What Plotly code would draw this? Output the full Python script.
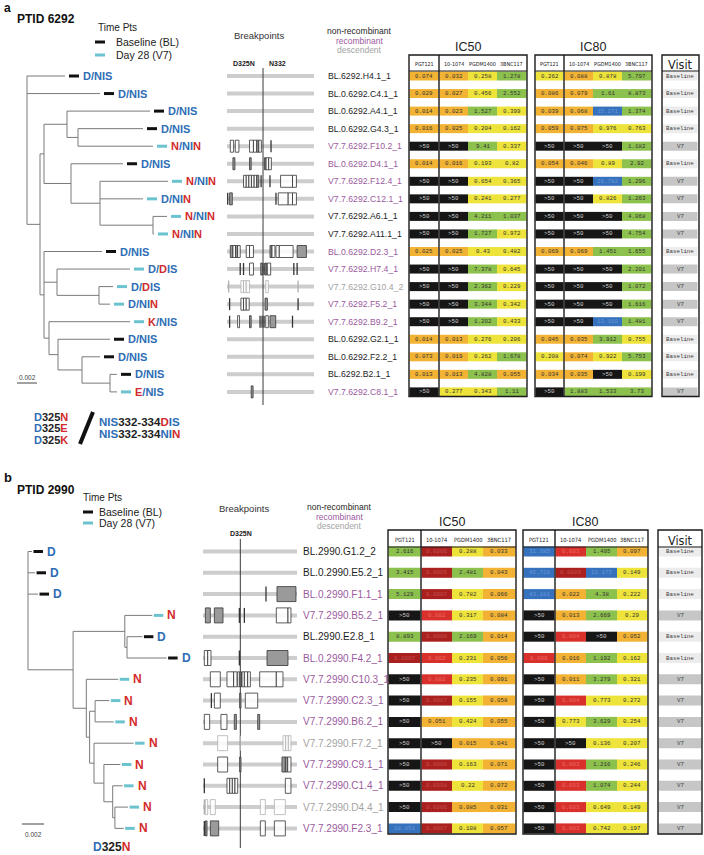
import plotly.graph_objects as go

# ============================ DATA ============================
# ---------- Panel a : PTID 6292 ----------
a_seq_names = ["BL.6292.H4.1_1", "BL.0.6292.C4.1_1", "BL.0.6292.A4.1_1", "BL.0.6292.G4.3_1",
               "V7.7.6292.F10.2_1", "BL.0.6292.D4.1_1", "V7.7.6292.F12.4_1", "V7.7.6292.C12.1_1",
               "V7.7.6292.A6.1_1", "V7.7.6292.A11.1_1", "BL.0.6292.D2.3_1", "V7.7.6292.H7.4_1",
               "V7.7.6292.G10.4_2", "V7.7.6292.F5.2_1", "V7.7.6292.B9.2_1", "BL.0.6292.G2.1_1",
               "BL.0.6292.F2.2_1", "BL.6292.B2.1_1", "V7.7.6292.C8.1_1"]
a_seq_class = ["non", "non", "non", "non", "rec", "rec", "rec", "rec", "non", "non",
               "rec", "rec", "desc", "rec", "rec", "non", "non", "non", "rec"]
a_genotype = ["D/NIS", "D/NIS", "D/NIS", "D/NIS", "N/NIN", "D/NIS", "N/NIN", "D/NIN", "N/NIN", "N/NIN",
              "D/NIS", "D/DIS", "D/DIS", "D/NIN", "K/NIS", "D/NIS", "D/NIS", "D/NIS", "E/NIS"]
a_reference = "D/NIS"
a_timepoint = ["BL", "BL", "BL", "BL", "V7", "BL", "V7", "V7", "V7", "V7",
               "BL", "V7", "V7", "V7", "V7", "BL", "BL", "BL", "V7"]

# tree: (node, parent, branch length in substitutions/site)
a_tree = [
    ("root", None, 0.0),
    ("L0", "root", 0.0038), ("L1", "root", 0.0073), ("n1", "root", 0.0013),
    ("n2", "n1", 0.0004),
    ("n3", "n2", 0.0023), ("L2", "n3", 0.0083), ("n4", "n3", 0.0011),
    ("L3", "n4", 0.0065), ("L4", "n4", 0.0075),
    ("n5", "n2", 0.0027), ("L5", "n5", 0.0052), ("n6", "n5", 0.0029),
    ("L6", "n6", 0.0068), ("L7", "n6", 0.0043), ("n7", "n6", 0.0053),
    ("L8", "n7", 0.0014), ("L9", "n7", 0.0001),
    ("n8", "n1", 0.0004), ("L10", "n8", 0.0058),
    ("n9", "n8", 0.0013), ("L11", "n9", 0.0073), ("n10", "n9", 0.0042),
    ("L12", "n10", 0.0014), ("L13", "n10", 0.0011),
    ("n11", "n8", 0.0005), ("L14", "n11", 0.0081), ("n12", "n11", 0.0009),
    ("L15", "n12", 0.0052), ("n13", "n12", 0.0024), ("L16", "n13", 0.0018),
    ("n14", "n13", 0.0028), ("L17", "n14", 0.0007), ("L18", "n14", 0.0007),
]

# breakpoints along the env segment (percent of segment); kind o=open box, f=filled box, l=line
a_d325_pos = 41.4
a_breaks = [
    [], [], [], [],
    [("o", 3.8, 7.6), ("o", 9.5, 13.7), ("o", 25.9, 30.4), ("o", 30.4, 34.2), ("f", 34.2, 36.5),
     ("o", 36.5, 39.5), ("l", 50.6, 50.6)],
    [("f", 6.8, 9.1), ("f", 25.9, 27.8), ("f", 43.0, 44.9), ("o", 44.9, 47.9), ("o", 47.9, 51.0)],
    [("o", 19.0, 22.1), ("o", 22.1, 25.1), ("o", 25.1, 28.1), ("o", 28.1, 31.2), ("o", 31.2, 34.2),
     ("f", 34.2, 36.5), ("l", 39.2, 39.2), ("l", 49.4, 49.4), ("o", 61.6, 75.3), ("o", 75.3, 79.8)],
    [("l", 0.8, 0.8), ("f", 3.0, 6.1), ("l", 56.3, 56.3), ("o", 58.9, 70.3), ("o", 70.3, 75.3),
     ("o", 75.3, 79.8)],
    [], [],
    [("f", 3.8, 6.8), ("o", 6.8, 9.9), ("f", 9.9, 12.2), ("o", 12.2, 15.2), ("o", 22.1, 25.9),
     ("o", 25.9, 30.4), ("f", 49.4, 51.7), ("o", 51.7, 55.1), ("o", 56.3, 60.1), ("o", 60.1, 76.0),
     ("f", 80.6, 91.3)],
    [("l", 15.2, 15.2), ("l", 19.0, 19.0), ("o", 25.9, 30.4), ("f", 38.8, 40.7), ("l", 42.6, 42.6),
     ("f", 43.7, 45.6), ("o", 46.4, 50.2), ("l", 76.8, 76.8), ("l", 80.6, 80.6)],
    [("l", 1.9, 1.9), ("o", 16.0, 19.0), ("o", 19.0, 22.1), ("o", 22.1, 25.9), ("o", 44.5, 47.5),
     ("l", 81.7, 81.7)],
    [("l", 3.0, 3.0), ("o", 16.0, 19.0), ("o", 19.0, 22.1), ("o", 22.1, 25.5), ("f", 43.7, 46.4),
     ("l", 81.7, 81.7)],
    [("l", 3.0, 3.0), ("o", 12.2, 14.4), ("f", 25.9, 27.8), ("l", 38.0, 38.0), ("l", 40.3, 40.3),
     ("l", 42.6, 42.6), ("o", 44.5, 47.5), ("f", 49.4, 56.0), ("l", 75.3, 75.3)],
    [], [], [],
    [("f", 27.8, 30.0)],
]

a_ic50_pgt121 = ["0.074", "0.029", "0.014", "0.016", ">50", "0.014", ">50", ">50", ">50", ">50",
                 "0.025", ">50", ">50", ">50", ">50", "0.014", "0.073", "0.013", ">50"]
a_ic50_1074 = ["0.032", "0.027", "0.023", "0.025", ">50", "0.016", ">50", ">50", ">50", ">50",
               "0.025", ">50", ">50", ">50", ">50", "0.013", "0.019", "0.013", "0.277"]
a_ic50_pgdm = ["0.258", "0.456", "1.527", "0.204", "9.41", "0.193", "0.654", "0.241", "4.211", "1.727",
               "0.43", "7.378", "2.362", "3.344", "1.202", "0.276", "0.262", "4.828", "0.343"]
a_ic50_3bnc = ["1.278", "2.552", "0.399", "0.162", "0.337", "0.82", "0.365", "0.277", "1.037", "0.972",
               "0.482", "0.645", "0.229", "0.342", "0.433", "0.206", "1.678", "0.055", "1.11"]
a_ic80_pgt121 = ["0.262", "0.086", "0.039", "0.059", ">50", "0.054", ">50", ">50", ">50", ">50",
                 "0.069", ">50", ">50", ">50", ">50", "0.045", "0.208", "0.034", ">50"]
a_ic80_1074 = ["0.088", "0.079", "0.068", "0.075", ">50", "0.046", ">50", ">50", ">50", ">50",
               "0.069", ">50", ">50", ">50", ">50", "0.035", "0.074", "0.035", "1.883"]
a_ic80_pgdm = ["0.878", "1.61", "35.271", "0.976", ">50", "0.89", "20.782", "0.826", ">50", ">50",
               "1.451", ">50", ">50", ">50", "13.160", "3.912", "0.922", ">50", "1.533"]
a_ic80_3bnc = ["5.797", "8.873", "1.374", "0.763", "1.182", "2.92", "1.296", "1.263", "4.068", "4.754",
               "1.655", "2.201", "1.072", "1.616", "1.481", "0.755", "5.753", "0.199", "3.73"]

# ---------- Panel b : PTID 2990 ----------
b_seq_names = ["BL.2990.G1.2_2", "BL.0.2990.E5.2_1", "BL.0.2990.F1.1_1", "V7.7.2990.B5.2_1",
               "BL.2990.E2.8_1", "BL.0.2990.F4.2_1", "V7.7.2990.C10.3_1", "V7.7.2990.C2.3_1",
               "V7.7.2990.B6.2_1", "V7.7.2990.F7.2_1", "V7.7.2990.C9.1_1", "V7.7.2990.C1.4_1",
               "V7.7.2990.D4.4_1", "V7.7.2990.F2.3_1"]
b_seq_class = ["non", "non", "rec", "rec", "non", "rec", "rec", "rec", "rec", "desc", "rec", "rec",
               "desc", "rec"]
b_genotype = ["D", "D", "D", "N", "D", "D", "N", "N", "N", "N", "N", "N", "N", "N"]
b_reference = "D"
b_timepoint = ["BL", "BL", "BL", "V7", "BL", "BL", "V7", "V7", "V7", "V7", "V7", "V7", "V7", "V7"]

b_tree = [
    ("root", None, 0.0),
    ("L0", "root", 0.00036), ("L1", "root", 0.00064), ("L2", "root", 0.00091),
    ("n1", "root", 0.0041),
    ("n2", "n1", 0.0047), ("L3", "n2", 0.0025), ("n3", "n2", 0.0002),
    ("L4", "n3", 0.0014), ("L5", "n3", 0.0036),
    ("n4", "n1", 0.0012), ("L6", "n4", 0.0029), ("n5", "n4", 0.0003),
    ("n6", "n5", 0.0005), ("L7", "n6", 0.0013), ("L8", "n6", 0.0017),
    ("n7", "n5", 0.0004), ("L9", "n7", 0.0036), ("n8", "n7", 0.0009),
    ("L10", "n8", 0.0015), ("n9", "n8", 0.0008), ("L11", "n9", 0.0009),
    ("n10", "n9", 0.0002), ("L12", "n10", 0.0012), ("L13", "n10", 0.0008),
]

b_d325_pos = 39.7
b_breaks = [
    [], [],
    [("l", 67.0, 67.0), ("f", 78.7, 98.9)],
    [("f", 2.5, 7.8), ("f", 12.1, 21.3), ("l", 38.7, 38.7), ("l", 44.0, 44.0), ("o", 78.0, 90.4),
     ("o", 90.4, 93.6)],
    [],
    [("o", 1.4, 5.0), ("o", 5.0, 8.5), ("l", 38.7, 38.7), ("f", 68.1, 90.4)],
    [("o", 7.8, 18.4), ("o", 25.5, 32.6), ("o", 32.6, 36.2), ("o", 36.9, 39.0), ("f", 39.5, 41.0),
     ("o", 41.5, 44.0), ("o", 44.0, 47.5), ("o", 47.5, 50.4), ("o", 60.3, 78.0), ("o", 78.0, 85.1)],
    [("l", 8.9, 8.9), ("o", 12.1, 18.4), ("f", 39.0, 40.4), ("o", 45.0, 58.2)],
    [("o", 1.4, 7.1), ("o", 19.1, 25.5), ("f", 33.3, 35.5), ("f", 58.2, 60.3)],
    [("o", 15.6, 26.2), ("l", 39.7, 39.7), ("o", 85.1, 87.9), ("o", 87.9, 90.8), ("o", 90.8, 93.6)],
    [("o", 15.6, 26.2), ("f", 39.0, 40.4), ("f", 84.0, 87.6), ("f", 87.6, 90.1), ("o", 90.1, 93.6)],
    [("l", 1.4, 1.4), ("o", 25.5, 28.4), ("o", 28.4, 31.2), ("o", 31.2, 34.0), ("o", 34.0, 36.9),
     ("o", 87.6, 93.6)],
    [("l", 1.4, 1.4), ("o", 2.5, 5.0), ("o", 7.8, 13.1), ("o", 61.0, 66.3), ("o", 75.9, 87.6)],
    [("l", 1.4, 1.4), ("f", 2.5, 4.3), ("f", 7.8, 16.7), ("o", 61.0, 66.3), ("o", 75.9, 87.6)],
]

b_ic50_pgt121 = ["2.616", "3.415", "5.129", ">50", "8.893", "0.0007", ">50", ">50", ">50", ">50",
                 ">50", ">50", ">50", "18.851"]
b_ic50_1074 = ["0.0006", "0.0005", "0.0007", "0.002", "0.0006", "0.002", "0.002", "0.0007", "0.051",
               ">50", "0.0006", "0.0008", "0.0006", "0.0007"]
b_ic50_pgdm = ["0.288", "2.481", "0.782", "0.317", "2.169", "0.231", "0.235", "0.155", "0.424", "0.015",
               "0.163", "0.22", "0.085", "0.108"]
b_ic50_3bnc = ["0.033", "0.043", "0.066", "0.084", "0.014", "0.056", "0.091", "0.058", "0.055", "0.041",
               "0.071", "0.072", "0.031", "0.057"]
b_ic80_pgt121 = ["31.385", "45.728", "43.101", ">50", ">50", "0.009", ">50", ">50", ">50", ">50",
                 ">50", ">50", ">50", ">50"]
b_ic80_1074 = ["0.003", "0.0009", "0.022", "0.013", "0.004", "0.016", "0.011", "0.004", "0.773", ">50",
               "0.003", "0.003", "0.003", "0.003"]
b_ic80_pgdm = ["1.495", "22.175", "4.38", "2.669", ">50", "1.192", "3.279", "0.773", "3.629", "0.136",
               "1.216", "1.074", "0.649", "0.742"]
b_ic80_3bnc = ["0.097", "0.149", "0.222", "0.29", "0.052", "0.162", "0.321", "0.272", "0.254", "0.207",
               "0.246", "0.244", "0.149", "0.197"]

antibodies = ["PGT121", "10-1074", "PGDM1400", "3BNC117"]
visit_names = {"BL": "Baseline", "V7": "V7"}

# ============================ STYLE ============================
SANS = "Liberation Sans, Arial, Helvetica, sans-serif"
NARROW = "DejaVu Sans Condensed, Liberation Sans Narrow, Liberation Sans, Arial, sans-serif"
MONO = "Liberation Mono, DejaVu Sans Mono, Courier New, monospace"
BLUE = "#2e6db5"
RED = "#d22b2b"
TREE_COL = "#7a7a7a"
DASH_COL = {"BL": "#111111", "V7": "#6cc3d0"}
NAME_COL = {"non": "#1e1e1e", "rec": "#9b5a9e", "desc": "#a3a3a3"}
GRAYLINE = "#cdcdcd"

CELL = {"black": ("#161616", "#cfcfcf"), "darkred": ("#a9201f", "#c75050"), "red": ("#d8312c", "#ec6a62"),
        "orange": ("#f2b233", "#333333"), "yellow": ("#eee33a", "#333333"), "green": ("#8dc14e", "#333333"),
        "blue": ("#3571bd", "#6a98d6")}


def cell_style(s):
    if s.startswith(">"):
        return CELL["black"]
    v = float(s)
    if v < 0.001:
        return CELL["darkred"]
    if v < 0.01:
        return CELL["red"]
    if v < 0.1:
        return CELL["orange"]
    if v < 1:
        return CELL["yellow"]
    if v < 10:
        return CELL["green"]
    return CELL["blue"]


shapes = []
ann = []
line_groups = {}


def seg(x0, y0, x1, y1, color, width):
    xs, ys = line_groups.setdefault((color, width), ([], []))
    xs += [x0, x1, None]
    ys += [y0, y1, None]


def txt(x, y, s, size, color="#222222", anchor="left", family=SANS, bold=False, yanchor="middle"):
    if bold:
        s = "<b>" + s + "</b>"
    ann.append(dict(x=x, y=y, xref="x", yref="y", text=s, showarrow=False, xanchor=anchor,
                    yanchor=yanchor, borderpad=0, font=dict(size=size, color=color, family=family)))


def rect(x0, y0, x1, y1, fill, line_color=None, lw=0):
    shapes.append(dict(type="rect", xref="x", yref="y", x0=x0, x1=x1, y0=y0, y1=y1,
                       fillcolor=fill, line=dict(color=line_color or fill, width=lw), layer="above"))


def vline_shape(x, y0, y1, color, width):
    shapes.append(dict(type="line", xref="x", yref="y", x0=x, x1=x, y0=y0, y1=y1,
                       line=dict(color=color, width=width), layer="above"))


def geno_html(g, ref):
    out = ""
    for c, r in zip(g, ref):
        out += "<span style='color:%s'>%s</span>" % (BLUE if c == r else RED, c)
    return "<b>" + out + "</b>"


def draw_tree(tree, rows_y, x_root, scale, genotypes, ref, times, dash_off, dash_len, text_off, fsize):
    px, py, kids = {}, {}, {}
    for name, parent, bl in tree:
        px[name] = x_root if parent is None else px[parent] + bl * scale
        if parent is not None:
            kids.setdefault(parent, []).append(name)
    for name, parent, bl in reversed(tree):
        if name in kids:
            ys = [py[c] for c in kids[name]]
            py[name] = (min(ys) + max(ys)) / 2
        else:
            py[name] = rows_y[int(name[1:])]
    for name, parent, bl in tree:
        if parent is not None:
            seg(px[parent], py[name], px[name], py[name], TREE_COL, 1)
        if name in kids:
            ys = [py[c] for c in kids[name]]
            seg(px[name], min(ys), px[name], max(ys), TREE_COL, 1)
        if name.startswith("L"):
            i = int(name[1:])
            x = px[name]
            seg(x + dash_off, py[name], x + dash_off + dash_len, py[name], DASH_COL[times[i]], 3)
            ann.append(dict(x=x + text_off, y=py[name], xref="x", yref="y", text=geno_html(genotypes[i], ref),
                            showarrow=False, xanchor="left", yanchor="middle", borderpad=0,
                            font=dict(size=fsize, family=SANS)))


def draw_breaks(breaks, rows_y, gx0, gx1, d325, classes, h, vy0, vy1):
    for y in rows_y:
        seg(gx0, y, gx1, y, GRAYLINE, 4)
    seg(gx0 + (gx1 - gx0) * d325 / 100, vy0, gx0 + (gx1 - gx0) * d325 / 100, vy1, "#3a3a3a", 1)
    for i, marks in enumerate(breaks):
        light = classes[i] == "desc"
        edge = "#b0b0b0" if light else "#333333"
        fillc = "#dddddd" if light else "#9a9a9a"
        y = rows_y[i]
        for kind, p0, p1 in marks:
            x0 = gx0 + (gx1 - gx0) * p0 / 100
            x1 = gx0 + (gx1 - gx0) * p1 / 100
            if kind == "l":
                vline_shape(x0, y - h / 2, y + h / 2, edge, 1.3)
            elif kind == "f":
                rect(x0, y - h / 2, x1, y + h / 2, fillc, edge, 0.8)
            else:
                rect(x0, y - h / 2, x1, y + h / 2, "rgba(255,255,255,0.85)", edge, 0.8)


def draw_names(names, classes, rows_y, x, fsize):
    for i, n in enumerate(names):
        txt(x, rows_y[i], n, fsize, NAME_COL[classes[i]])


def draw_table(rows_y, cols, visit_col, times, boxes, seps, top, head_y, head_line, bottom,
               cell_h, title_y, title_x, visit_x, col_font):
    for (x0, x1), vals in cols:
        for i, v in enumerate(vals):
            bg, fg = cell_style(v)
            rect(x0, rows_y[i] - cell_h / 2, x1, rows_y[i] + cell_h / 2, bg)
            txt((x0 + x1) / 2, rows_y[i], v, 5.8, fg, "center", MONO)
    vx0, vx1 = visit_col
    for i, t in enumerate(times):
        bg = "#ececec" if t == "BL" else "#c6c6c6"
        rect(vx0, rows_y[i] - cell_h / 2, vx1, rows_y[i] + cell_h / 2, bg)
        txt((vx0 + vx1) / 2, rows_y[i], visit_names[t], 5.8, "#3a3a3a", "center", MONO)
    for (x0, x1) in boxes:
        shapes.append(dict(type="rect", xref="x", yref="y", x0=x0, x1=x1, y0=top, y1=bottom,
                           fillcolor="rgba(0,0,0,0)", line=dict(color="#1a1a1a", width=1.4), layer="above"))
        shapes.append(dict(type="line", xref="x", yref="y", x0=x0, x1=x1, y0=head_line, y1=head_line,
                           line=dict(color="#1a1a1a", width=1.2), layer="above"))
    for sx in seps:
        vline_shape(sx, top, bottom, "#1a1a1a", 1.4)
    for k, ((x0, x1), _) in enumerate(cols):
        txt((x0 + x1) / 2, head_y, antibodies[k % 4], col_font, "#222222", "center", NARROW)
    txt(title_x[0], title_y, "IC50", 12.5, "#222222", "center")
    txt(title_x[1], title_y, "IC80", 12.5, "#222222", "center")
    txt(visit_x, head_y, "Visit", 12.5, "#222222", "center", NARROW)


# ============================ PANEL A ============================
a_rows = [76 + i * 17.55 for i in range(len(a_seq_names))]
txt(3, 7.5, "a", 12, "#111111", bold=True)
txt(16, 19, "PTID 6292", 12, "#111111", bold=True)
txt(97, 27, "Time Pts", 10, "#222222")
seg(95, 42, 105, 42, DASH_COL["BL"], 3)
seg(95, 55, 105, 55, DASH_COL["V7"], 3)
txt(115, 42, "Baseline (BL)", 10.5, "#222222")
txt(115, 55, "Day 28 (V7)", 10.5, "#222222")
txt(259, 35, "Breakpoints", 9.5, "#333333", "center")
txt(359, 31, "non-recombinant", 8.5, NAME_COL["non"], "center")
txt(359, 40.5, "recombinant", 8.5, NAME_COL["rec"], "center")
txt(359, 50, "descendent", 8.5, NAME_COL["desc"], "center")
txt(244, 63, "D325N", 7, "#222222", "center", bold=True)
txt(277, 63, "N332", 7, "#222222", "center", bold=True)

draw_tree(a_tree, a_rows, 27, 10000, a_genotype, a_reference, a_timepoint, 4, 10, 17, 11)
draw_breaks(a_breaks, a_rows, 227, 314, a_d325_pos, a_seq_class, 12, 68, 405)
draw_names(a_seq_names, a_seq_class, a_rows, 327, 8.7)
draw_table(a_rows,
           [((409.5, 438.5), a_ic50_pgt121), ((439.5, 468), a_ic50_1074), ((468, 497), a_ic50_pgdm),
            ((497, 526.5), a_ic50_3bnc),
            ((535.5, 563.5), a_ic80_pgt121), ((564.5, 593), a_ic80_1074), ((593, 622), a_ic80_pgdm),
            ((622, 651.5), a_ic80_3bnc)],
           (662.5, 697.5), a_timepoint,
           [(409, 527), (535, 652), (662, 699)], [439, 564], 55, 64, 71, 396.5, 9,
           47, (468, 593), 680, 5.4)

# scale bar + legend
seg(17, 383, 37, 383, "#444444", 1)
txt(27, 377, "0.002", 6.5, "#444444", "center")
c_d = "<span style='color:%s'>D</span>" % BLUE
for k, aa in enumerate(["N", "E", "K"]):
    txt(33, 416.5 + k * 11.5, c_d + "325<span style='color:%s'>%s</span>" % (RED, aa), 11, "#1e1e1e", bold=True)
seg(80, 444, 93, 412, "#111111", 4)
nis = "<span style='color:%s'>NIS</span>332-334" % BLUE
txt(98, 421.5, nis + "<span style='color:%s'>D</span><span style='color:%s'>IS</span>" % (RED, BLUE),
    11.5, "#1e1e1e", bold=True)
txt(98, 434, nis + "<span style='color:%s'>NI</span><span style='color:%s'>N</span>" % (BLUE, RED),
    11.5, "#1e1e1e", bold=True)

# ============================ PANEL B ============================
b_rows = [551.5 + i * 21.3 for i in range(len(b_seq_names))]
txt(3, 477, "b", 13, "#111111", bold=True)
txt(16, 490, "PTID 2990", 12, "#111111", bold=True)
txt(82, 497, "Time Pts", 10, "#222222")
seg(83, 512, 93, 512, DASH_COL["BL"], 3)
seg(83, 523, 93, 523, DASH_COL["V7"], 3)
txt(98, 512, "Baseline (BL)", 10.5, "#222222")
txt(98, 523, "Day 28 (V7)", 10.5, "#222222")
txt(244, 508, "Breakpoints", 9.5, "#333333", "center")
txt(339, 507, "non-recombinant", 8.5, NAME_COL["non"], "center")
txt(339, 516.5, "recombinant", 8.5, NAME_COL["rec"], "center")
txt(339, 526, "descendent", 8.5, NAME_COL["desc"], "center")
txt(241, 533, "D325N", 7, "#222222", "center", bold=True)

draw_tree(b_tree, b_rows, 28, 11000, b_genotype, b_reference, b_timepoint, 1.5, 9.5, 14, 12)
draw_breaks(b_breaks, b_rows, 203, 297, b_d325_pos, b_seq_class, 15, 539, 848)
draw_names(b_seq_names, b_seq_class, b_rows, 302, 10)
draw_table(b_rows,
           [((388.5, 420.5), b_ic50_pgt121), ((421.5, 452), b_ic50_1074), ((452, 483), b_ic50_pgdm),
            ((483, 515.5), b_ic50_3bnc),
            ((523.5, 554.5), b_ic80_pgt121), ((555.5, 586), b_ic80_1074), ((586, 617), b_ic80_pgdm),
            ((617, 647.5), b_ic80_3bnc)],
           (658.5, 701.5), b_timepoint,
           [(388, 516), (523, 648), (658, 702)], [421, 555], 530, 540, 547, 834, 10,
           522, (452, 585), 680, 5.7)

seg(22, 824, 44, 824, "#444444", 1)
txt(33, 834, "0.002", 6.5, "#444444", "center")
txt(92, 847, c_d + "325<span style='color:%s'>N</span>" % RED, 12, "#1e1e1e", bold=True)

# ============================ FIGURE ============================
fig = go.Figure()
for (color, width), (xs, ys) in line_groups.items():
    fig.add_trace(go.Scatter(x=xs, y=ys, mode="lines", line=dict(color=color, width=width),
                             hoverinfo="skip", showlegend=False))
W, H = 704, 855
fig.update_layout(
    width=W, height=H, margin=dict(l=0, r=0, t=0, b=0),
    paper_bgcolor="white", plot_bgcolor="white",
    xaxis=dict(range=[0, W], visible=False, fixedrange=True),
    yaxis=dict(range=[H, 0], visible=False, fixedrange=True),
    shapes=shapes, annotations=ann, showlegend=False,
)
# remove the default 8px page margin so the figure fills the window exactly
fig.write_html("out.html", config={"displayModeBar": False},
               post_script="document.body.style.margin='0px';")
